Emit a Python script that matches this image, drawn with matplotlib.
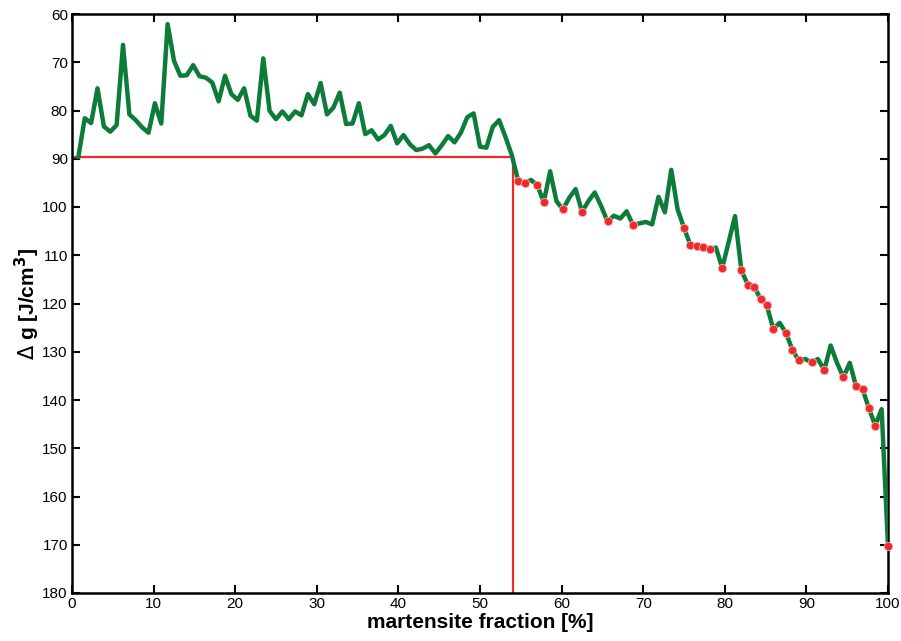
import numpy as np
import matplotlib.pyplot as plt

plt.rcParams['font.family'] = ['Liberation Sans', 'DejaVu Sans']

# martensite fraction grid (128 steps) and driving force values
n_steps = 128
fraction = np.arange(1, n_steps + 1) * 100.0 / n_steps
delta_g = [
    89.6, 81.6, 82.6, 75.4, 83.3, 84.4, 83.0, 66.4, 80.8, 82.0,
    83.5, 84.6, 78.5, 82.7, 62.1, 69.7, 72.8, 72.7, 70.6, 72.9,
    73.2, 74.2, 78.1, 72.8, 76.6, 77.8, 75.4, 81.1, 82.1, 69.2,
    80.1, 81.8, 80.2, 81.8, 80.2, 81.0, 76.6, 78.7, 74.3, 80.8,
    79.4, 76.3, 82.8, 82.7, 78.5, 84.9, 84.1, 86.0, 85.1, 83.2,
    86.8, 85.1, 87.0, 88.2, 87.9, 87.2, 88.9, 87.2, 85.3, 86.6,
    84.6, 81.4, 80.6, 87.5, 87.7, 83.4, 82.0, 85.5, 89.3, 94.6,
    95.1, 94.4, 95.5, 99.0, 92.6, 98.8, 100.5, 98.1, 96.3, 101.0,
    98.8, 97.0, 99.8, 103.0, 101.8, 102.4, 100.9, 103.7, 103.4, 103.1,
    103.6, 97.9, 101.1, 92.3, 100.5, 104.3, 107.9, 108.0, 108.2, 108.8,
    108.4, 112.6, 107.3, 101.9, 113.1, 116.1, 116.5, 119.0, 120.4, 125.3,
    124.0, 126.1, 129.6, 131.8, 131.5, 132.2, 131.5, 133.8, 128.7, 132.3,
    135.3, 132.3, 137.2, 137.7, 141.7, 145.3, 141.9, 170.2,
]
threshold_x = 54.0
threshold_y = 89.6

delta_g = np.array(delta_g)
# points that set a new maximum of delta g
running = np.maximum.accumulate(delta_g)
is_record = np.zeros(len(delta_g), dtype=bool)
is_record[1:] = delta_g[1:] > running[:-1]

fig = plt.figure(figsize=(9.01, 6.41), dpi=100)
ax = fig.add_axes([72 / 901, 1 - 593 / 641, (888 - 72) / 901, (593 - 14) / 641])

ax.plot([0, threshold_x, threshold_x], [threshold_y, threshold_y, 180],
        color='#ee2a2a', lw=1.6, zorder=2)
ax.plot(fraction, delta_g, color='#0c7c3a', lw=3.2, zorder=3)
ax.plot(fraction[is_record], delta_g[is_record], 'o', color='#ee2a2a',
        markersize=6, markeredgecolor='#f7b0b0', markeredgewidth=0.6,
        zorder=4, clip_on=False)

ax.set_xlim(0, 100)
ax.set_ylim(180, 60)
ax.set_xticks(np.arange(0, 101, 10))
ax.set_yticks(np.arange(60, 181, 10))
ax.tick_params(direction='in', length=6, width=1.5, top=True, right=True,
               labelsize=11, pad=3)
for s in ax.spines.values():
    s.set_linewidth(1.8)

ax.set_xlabel('martensite fraction [%]', fontsize=15, fontweight='bold', labelpad=1)
ax.set_ylabel(r'$\Delta$ g [J/cm$^\mathbf{3}$]', fontsize=15, fontweight='bold', labelpad=0)

fig.savefig('out.png', dpi=100)
